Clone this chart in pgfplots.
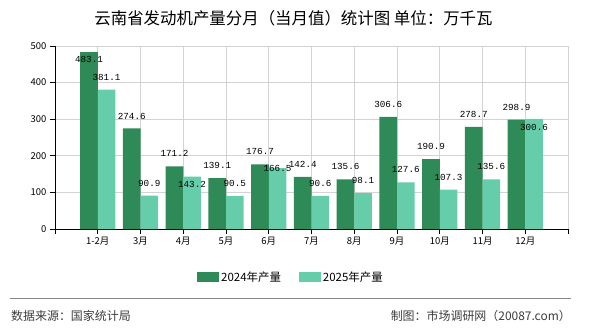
\documentclass[border=0pt]{standalone}
\usepackage{fontspec}
\setmainfont{Noto Sans CJK SC}
\newfontfamily\monofont{Liberation Mono}
\usepackage{pgfplots}
\pgfplotsset{compat=1.18}
\usepackage{pgfplotstable}

\definecolor{darkg}{RGB}{46,139,87}
\definecolor{lightg}{RGB}{102,205,170}
\definecolor{gridc}{RGB}{211,211,211}
\definecolor{sepc}{RGB}{136,136,136}
\definecolor{foot}{RGB}{60,60,60}

\pgfplotstableread{
x y dy
0 483.1 -7.5
1 274.6 12.5
2 171.2 12.5
3 139.1 12.5
4 176.7 12.5
5 142.4 12.5
6 135.6 12.5
7 306.6 12.5
8 190.9 12.5
9 278.7 12.5
10 298.9 12.5
}\tabA
\pgfplotstableread{
x y dy
0 381.1 12.5
1 90.9 12.5
2 143.2 -8
3 90.5 12.5
4 166.5 0
5 90.6 12.5
6 98.1 12.5
7 127.6 12.5
8 107.3 12.5
9 135.6 12.5
10 300.6 -8
}\tabB

\begin{document}
\begin{tikzpicture}[x=1bp,y=1bp]
\path[use as bounding box] (0,0) rectangle (590,330);
\node[font=\fontsize{16.5}{19}\selectfont, inner sep=0pt] at (293.5,312) {云南省发动机产量分月（当月值）统计图 单位：万千瓦};
\begin{axis}[
  at={(55bp,101bp)}, anchor=south west,
  scale only axis, width=513bp, height=183bp,
  xmin=-1, xmax=11, ymin=0, ymax=500,
  enlargelimits=false, clip=false,
  ybar=0pt, bar width=0.41,
  xtick={-1,0,...,11},
  xticklabels={,1-2月,3月,4月,5月,6月,7月,8月,9月,10月,11月,12月,},
  ytick={0,100,...,500},
  grid=major, major grid style={gridc, line width=0.8bp},
  axis x line*=bottom, axis y line*=left,
  axis line style={black, line width=0.8bp},
  tick align=outside, major tick length=5bp,
  tick style={black, line width=0.8bp},
  tick label style={font=\fontsize{9.5}{11}\selectfont},
  /pgf/number format/assume math mode=true,
  nodes near coords,
  nodes near coords style={font=\monofont\fontsize{9.3}{11}\selectfont, anchor=center, yshift=\dy bp, /pgf/number format/.cd, fixed, fixed zerofill, precision=1},
  visualization depends on={\thisrow{dy} \as \dy},
  legend style={at={(0.46,-0.262)}, anchor=center, draw=none, legend columns=2,
    font=\fontsize{11.5}{13}\selectfont,
    /tikz/every even column/.append style={column sep=16bp}},
  legend image code/.code={\fill[#1] (0bp,-4.6bp) rectangle (22bp,4.6bp);},
]
\addplot[fill=darkg, draw=none] table[x=x,y=y]{\tabA};
\addplot[fill=lightg, draw=none] table[x=x,y=y]{\tabB};
\legend{2024年产量,2025年产量}
\end{axis}
\draw[sepc, line width=1bp] (10,32) -- (571,32);
\node[anchor=west, inner sep=0pt, text=foot, font=\fontsize{12}{14}\selectfont] at (11,14) {数据来源：国家统计局};
\node[anchor=east, inner sep=0pt, text=foot, font=\fontsize{12}{14}\selectfont] at (571,14) {制图：市场调研网（20087.com）};
\end{tikzpicture}
\end{document}
